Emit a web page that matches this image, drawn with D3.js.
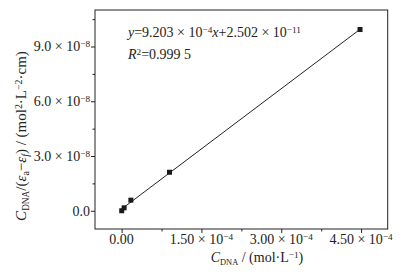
<!DOCTYPE html>
<html><head><meta charset="utf-8">
<script src="https://cdn.jsdelivr.net/npm/d3@7"></script>
<style>html,body{margin:0;padding:0;background:#fff;}svg{display:block;}</style>
</head><body>
<script>
// data
const xData = [0.002e-4, 0.047e-4, 0.174e-4, 0.90e-4, 4.48e-4];
const yData = [0.00e-8, 0.16e-8, 0.58e-8, 2.11e-8, 9.93e-8];
const xTicks = [0, 1.5e-4, 3.0e-4, 4.5e-4];
const xTickMant = ["0.00", "1.50", "3.00", "4.50"];
const xTickExp = ["", "−4", "−4", "−4"];
const xMinor = [0.75e-4, 2.25e-4, 3.75e-4];
const yTicks = [0, 3e-8, 6e-8, 9e-8];
const yTickMant = ["0.0", "3.0", "6.0", "9.0"];
const yTickExp = ["", "−8", "−8", "−8"];
const yMinor = [1.5e-8, 4.5e-8, 7.5e-8, 10.5e-8];

const W = 405, H = 274;
const FONT = "'Liberation Serif','Times New Roman',serif";
const FS = 14;
const svg = d3.select("body").append("svg").attr("width", W).attr("height", H)
  .style("font-family", FONT).attr("fill", "#222");

const x = d3.scaleLinear([-0.5e-4, 5.0e-4], [95, 387.7]);
const y = d3.scaleLinear([-1e-8, 1.1e-7], [229, 10]);

// frame
svg.append("rect").attr("x", x.range()[0]).attr("y", y.range()[1])
  .attr("width", x.range()[1] - x.range()[0]).attr("height", y.range()[0] - y.range()[1])
  .attr("fill", "none").attr("stroke", "#222").attr("stroke-width", 1);

function styleAxis(g) {
  g.select(".domain").remove();
  g.selectAll("line").attr("stroke", "#222").attr("stroke-width", 1);
}
svg.append("g").attr("transform", `translate(0,${y.range()[0]})`)
  .call(d3.axisBottom(x).tickValues(xTicks).tickSize(4).tickFormat(""))
  .call(styleAxis);
svg.append("g").attr("transform", `translate(0,${y.range()[0]})`)
  .call(d3.axisBottom(x).tickValues(xMinor).tickSize(2.5).tickFormat(""))
  .call(styleAxis);
svg.append("g").attr("transform", `translate(${x.range()[0]},0)`)
  .call(d3.axisLeft(y).tickValues(yTicks).tickSize(4).tickFormat(""))
  .call(styleAxis);
svg.append("g").attr("transform", `translate(${x.range()[0]},0)`)
  .call(d3.axisLeft(y).tickValues(yMinor).tickSize(2.5).tickFormat(""))
  .call(styleAxis);

function sciLabel(t, mant, exp) {
  t.append("tspan").text(mant);
  if (exp) {
    t.append("tspan").text(" × 10").attr("xml:space", "preserve");
    t.append("tspan").text(exp).attr("font-size", FS * 0.66).attr("dy", "-0.45em");
  }
}
xTicks.forEach((v, i) => {
  const t = svg.append("text").attr("x", x(v)).attr("y", 244)
    .attr("text-anchor", "middle").attr("font-size", FS);
  sciLabel(t, xTickMant[i], xTickExp[i]);
});
yTicks.forEach((v, i) => {
  const t = svg.append("text").attr("x", 90).attr("y", y(v) + 4.8)
    .attr("text-anchor", "end").attr("font-size", FS);
  sciLabel(t, yTickMant[i], yTickExp[i]);
});

// regression line
const mx = d3.mean(xData), my = d3.mean(yData);
const slope = d3.sum(xData, (d, i) => (d - mx) * (yData[i] - my)) / d3.sum(xData, d => (d - mx) ** 2);
const icpt = my - slope * mx;
const x0 = d3.min(xData), x1 = d3.max(xData);
svg.append("line").attr("x1", x(x0)).attr("y1", y(slope * x0 + icpt))
  .attr("x2", x(x1)).attr("y2", y(slope * x1 + icpt))
  .attr("stroke", "#222").attr("stroke-width", 1);

// points
svg.selectAll("rect.pt").data(xData).join("rect").attr("class", "pt")
  .attr("x", d => x(d) - 2.5).attr("y", (d, i) => y(yData[i]) - 2.5)
  .attr("width", 5).attr("height", 5).attr("fill", "#1a1a1a");

// annotation
const a1 = svg.append("text").attr("x", 128).attr("y", 37).attr("font-size", FS);
a1.append("tspan").text("y").attr("font-style", "italic");
a1.append("tspan").text("=9.203 × 10").attr("xml:space", "preserve");
a1.append("tspan").text("−4").attr("font-size", FS * 0.66).attr("dy", "-0.45em");
a1.append("tspan").text("x").attr("font-style", "italic").attr("dy", "0.297em");
a1.append("tspan").text("+2.502 × 10").attr("xml:space", "preserve");
a1.append("tspan").text("−11").attr("font-size", FS * 0.66).attr("dy", "-0.45em");

const a2 = svg.append("text").attr("x", 128).attr("y", 59).attr("font-size", FS);
a2.append("tspan").text("R").attr("font-style", "italic");
a2.append("tspan").text("2").attr("font-size", FS * 0.66).attr("dy", "-0.45em");
a2.append("tspan").text("=0.999 5").attr("dy", "0.297em").attr("xml:space", "preserve");

// x title
const XF = 14;
const xt = svg.append("text").attr("x", 257).attr("y", 262).attr("text-anchor", "middle").attr("font-size", XF);
xt.append("tspan").text("C").attr("font-style", "italic");
xt.append("tspan").text("DNA").attr("font-size", XF * 0.6).attr("dy", "0.3em");
xt.append("tspan").text(" / (mol·L").attr("dy", "-0.18em").attr("xml:space", "preserve");
xt.append("tspan").text("−1").attr("font-size", XF * 0.66).attr("dy", "-0.45em");
xt.append("tspan").text(")").attr("dy", "0.297em");

// y title
const YF = 15;
const yt = svg.append("text").attr("transform", "translate(26,136) rotate(-90)")
  .attr("text-anchor", "middle").attr("font-size", YF);
yt.append("tspan").text("C").attr("font-style", "italic");
yt.append("tspan").text("DNA").attr("font-size", YF * 0.62).attr("dy", "0.3em");
yt.append("tspan").text("/(").attr("dy", "-0.186em");
yt.append("tspan").text("ε").attr("font-style", "italic");
yt.append("tspan").text("a").attr("font-size", YF * 0.66).attr("dy", "0.3em");
yt.append("tspan").text("−").attr("dy", "-0.198em");
yt.append("tspan").text("ε").attr("font-style", "italic");
yt.append("tspan").text("f").attr("font-size", YF * 0.66).attr("dy", "0.3em").attr("font-style", "italic");
yt.append("tspan").text(") / (mol").attr("dy", "-0.198em").attr("xml:space", "preserve");
yt.append("tspan").text("2").attr("font-size", YF * 0.66).attr("dy", "-0.45em");
yt.append("tspan").text("·L").attr("dy", "0.297em");
yt.append("tspan").text("−2").attr("font-size", YF * 0.66).attr("dy", "-0.45em");
yt.append("tspan").text("·cm)").attr("dy", "0.297em");
</script>
</body></html>
